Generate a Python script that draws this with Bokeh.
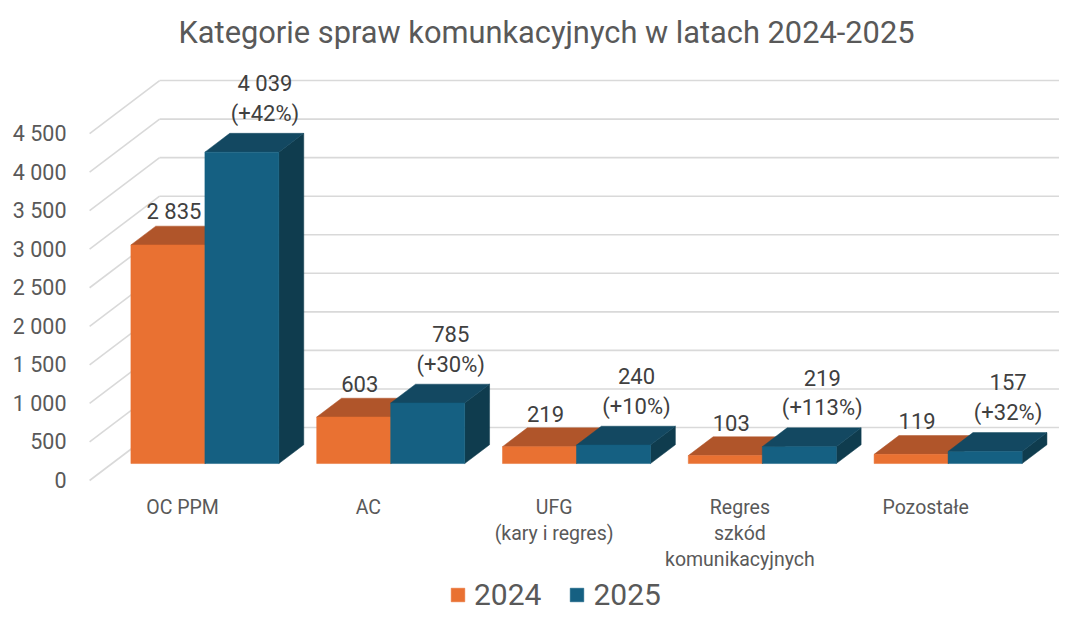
from bokeh.plotting import figure
from bokeh.models import (ColumnDataSource, FixedTicker, Legend, LegendItem, Range1d)
from bokeh.core.properties import value
from bokeh.embed import file_html
from bokeh.resources import INLINE

# ---------------- data ----------------
title_text = "Kategorie spraw komunkacyjnych w latach 2024-2025"
categories = ["OC PPM", "AC", "UFG\n(kary i regres)", "Regres\nszkód\nkomunikacyjnych", "Pozostałe"]
series_names = ["2024", "2025"]
values_2024 = [2835, 603, 219, 103, 119]
values_2025 = [4039, 785, 240, 219, 157]
y_ticks = [0, 500, 1000, 1500, 2000, 2500, 3000, 3500, 4000, 4500]

# ---------------- style / geometry ----------------
FONT = "Roboto"
C_OR_FRONT, C_OR_TOP, C_OR_SIDE = "#E97132", "#B0552A", "#8C4218"
C_BL_FRONT, C_BL_TOP, C_BL_SIDE = "#156082", "#134861", "#0F3C4E"
GRID = "#D9D9D9"
TXT = "#595959"
LBL = "#404040"

W, H = 1059, 612
PX_PER_CAT = 185.8        # px per category slot
PX_PER_VAL = 0.0771       # px per value unit
WALL_DX = 70 / PX_PER_CAT         # depth of the "room" in x data units
WALL_DY = 53 / PX_PER_VAL         # depth of the "room" in y data units
BAR_Z0 = 0.32                      # bar front plane (fraction of depth)
BAR_DZ = 0.355                     # bar depth (fraction of depth)
GROUP_W = 148 / PX_PER_CAT
BAR_W = GROUP_W / 2

# frame in canvas px
FL, FR, FT, FB = 80, W, 60, H
X0_PX = 182                        # canvas x of category 0 (front plane)
Y0_PX = 480                        # canvas y of value 0 (front plane)
CAT_LABEL_PX = 495                 # canvas y of top of category labels

x_start = (FL - X0_PX) / PX_PER_CAT
x_end = (FR - X0_PX) / PX_PER_CAT
y_start = (Y0_PX - FB) / PX_PER_VAL
y_end = (Y0_PX - FT) / PX_PER_VAL

p = figure(width=W, height=H, output_backend="svg", toolbar_location=None,
           x_range=Range1d(x_start, x_end), y_range=Range1d(y_start, y_end),
           min_border_left=FL, min_border_right=0, min_border_top=FT,
           min_border_bottom=0)
p.outline_line_color = None
p.xgrid.visible = False
p.ygrid.visible = False
p.xaxis.visible = False
p.background_fill_color = "white"
p.border_fill_color = "white"

# ---------------- title ----------------
p.title.text = title_text
p.title.align = "left"
p.title.text_font = FONT
p.title.text_font_size = "30.8px"
p.title.text_font_style = "normal"
p.title.text_color = TXT
p.title.offset = 98
p.title.standoff = 20

# ---------------- walls / gridlines ----------------
n = len(categories)
wall_x0 = -0.5
back_x0 = wall_x0 + WALL_DX
back_x1 = (n - 0.5) + WALL_DX
grid_src = ColumnDataSource(dict(
    fx=[wall_x0] * len(y_ticks), fy=y_ticks,
    bx=[back_x0] * len(y_ticks), by=[t + WALL_DY for t in y_ticks],
    ex=[back_x1] * len(y_ticks)))
p.segment(x0="fx", y0="fy", x1="bx", y1="by", source=grid_src,
          line_color=GRID, line_width=1.6)
p.segment(x0="bx", y0="by", x1="ex", y1="by", source=grid_src,
          line_color=GRID, line_width=1.6)

# ---------------- 3D bars ----------------
fdx = BAR_Z0 * WALL_DX
fdy = BAR_Z0 * WALL_DY
ddx = BAR_DZ * WALL_DX
ddy = BAR_DZ * WALL_DY


def bar_sources(vals, side):
    lefts, rights, bottoms, tops = [], [], [], []
    top_xs, top_ys, side_xs, side_ys = [], [], [], []
    for i, v in enumerate(vals):
        if side == 0:
            l, r = i - BAR_W + fdx, i + fdx
        else:
            l, r = i + fdx, i + BAR_W + fdx
        b, t = fdy, fdy + v
        lefts.append(l); rights.append(r); bottoms.append(b); tops.append(t)
        top_xs.append([l, r, r + ddx, l + ddx])
        top_ys.append([t, t, t + ddy, t + ddy])
        side_xs.append([r, r, r + ddx, r + ddx])
        side_ys.append([b, t, t + ddy, b + ddy])
    front = ColumnDataSource(dict(left=lefts, right=rights, bottom=bottoms, top=tops))
    topc = ColumnDataSource(dict(xs=top_xs, ys=top_ys))
    sidec = ColumnDataSource(dict(xs=side_xs, ys=side_ys))
    return front, topc, sidec


renderers = []
for k, (vals, cf, ct, cs) in enumerate([
        (values_2024, C_OR_FRONT, C_OR_TOP, C_OR_SIDE),
        (values_2025, C_BL_FRONT, C_BL_TOP, C_BL_SIDE)]):
    front, topc, sidec = bar_sources(vals, k)
    p.patches(xs="xs", ys="ys", source=sidec, fill_color=cs, line_color=cs, line_width=0.5)
    p.patches(xs="xs", ys="ys", source=topc, fill_color=ct, line_color=ct, line_width=0.5)
    r = p.quad(left="left", right="right", bottom="bottom", top="top", source=front,
               fill_color=cf, line_color=cf, line_width=0.5)
    renderers.append(r)

# ---------------- value labels ----------------
def fmt(v):
    return f"{v:,}".replace(",", " ")


lab24 = ColumnDataSource(dict(
    x=[i - BAR_W / 2 + fdx for i in range(n)],
    y=[fdy + v for v in values_2024],
    t=[fmt(v) for v in values_2024]))
p.text(x="x", y="y", text="t", source=lab24, text_align="center", text_baseline="middle",
       x_offset=6, y_offset=-33, text_font=value(FONT), text_font_size="22px",
       text_color=LBL)

pct = [f"(+{round((b / a - 1) * 100)}%)" for a, b in zip(values_2024, values_2025)]
lab25 = ColumnDataSource(dict(
    x=[i + BAR_W / 2 + fdx for i in range(n)],
    y=[fdy + v for v in values_2025],
    t=[fmt(v) for v in values_2025],
    pc=pct))
p.text(x="x", y="y", text="t", source=lab25, text_align="center", text_baseline="middle",
       x_offset=23, y_offset=-69, text_font=value(FONT), text_font_size="22px",
       text_color=LBL)
p.text(x="x", y="y", text="pc", source=lab25, text_align="center", text_baseline="middle",
       x_offset=23, y_offset=-39, text_font=value(FONT), text_font_size="22px",
       text_color=LBL)

# ---------------- category labels ----------------
cat_src = ColumnDataSource(dict(
    x=list(range(n)),
    y=[(Y0_PX - CAT_LABEL_PX) / PX_PER_VAL] * n,
    t=categories))
p.text(x="x", y="y", text="t", source=cat_src, text_align="center", text_baseline="top",
       text_font=value(FONT), text_font_size="19.5px", text_color=TXT,
       text_line_height=1.15)

# ---------------- y axis ----------------
yax = p.yaxis[0]
yax.ticker = FixedTicker(ticks=y_ticks)
yax.major_label_overrides = {t: fmt(t) for t in y_ticks}
yax.axis_line_color = None
yax.major_tick_line_color = None
yax.minor_tick_line_color = None
yax.major_tick_out = 0
yax.major_tick_in = 0
yax.major_label_standoff = 14
yax.major_label_text_font = FONT
yax.major_label_text_font_size = "21.5px"
yax.major_label_text_color = TXT

# ---------------- legend ----------------
legend = Legend(items=[LegendItem(label=series_names[0], renderers=[renderers[0]]),
                       LegendItem(label=series_names[1], renderers=[renderers[1]])],
                orientation="horizontal", location=(369, 0))
legend.glyph_width = 17
legend.glyph_height = 17
legend.label_standoff = 8
legend.spacing = 27
legend.label_text_font = FONT
legend.label_text_font_size = "30px"
legend.label_text_color = TXT
legend.border_line_color = None
legend.background_fill_alpha = 0
legend.padding = 0
legend.margin = 0
p.add_layout(legend)

open("out.html", "w").write(file_html(p, INLINE))
